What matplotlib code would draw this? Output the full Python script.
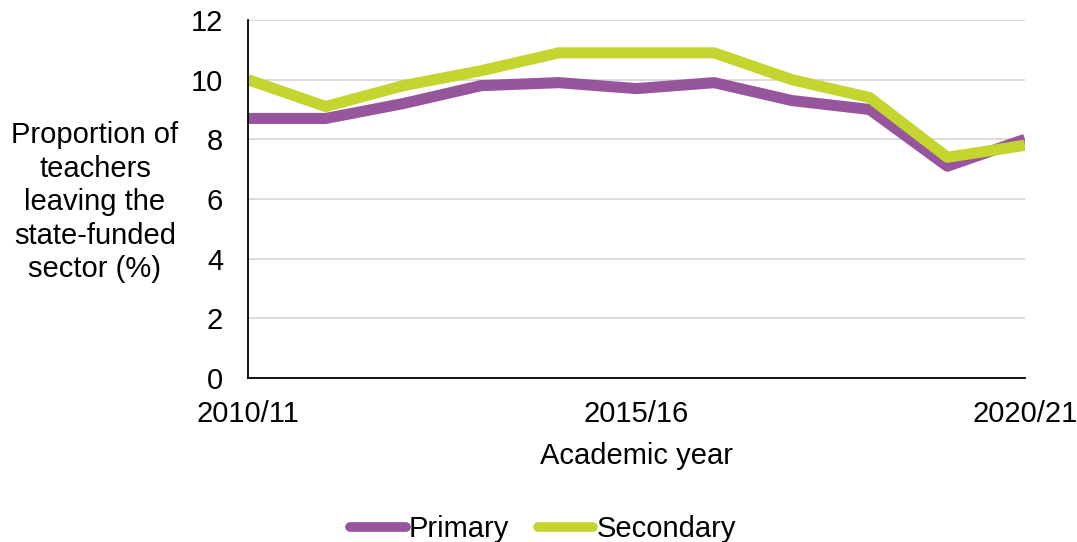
import matplotlib
matplotlib.use("Agg")
import matplotlib.pyplot as plt

plt.rcParams['font.family'] = ['Liberation Sans', 'DejaVu Sans']

years = ["2010/11", "2011/12", "2012/13", "2013/14", "2014/15", "2015/16",
         "2016/17", "2017/18", "2018/19", "2019/20", "2020/21"]
primary = [8.7, 8.7, 9.2, 9.8, 9.9, 9.7, 9.9, 9.3, 9.0, 7.1, 8.0]
secondary = [10.0, 9.1, 9.8, 10.3, 10.9, 10.9, 10.9, 10.0, 9.4, 7.4, 7.8]
yticks = [0, 2, 4, 6, 8, 10, 12]
xtick_labels = ["2010/11", "2015/16", "2020/21"]

FS = 21

fig = plt.figure(figsize=(10.77, 5.42), dpi=100)
ax = fig.add_axes([248/1077, 1 - 378/542, (1025-248)/1077, (378-20)/542])

x = list(range(len(years)))
ax.plot(x, primary, color='#97559e', lw=8, solid_capstyle='butt', label='Primary')
ax.plot(x, secondary, color='#c4d530', lw=8, solid_capstyle='butt', label='Secondary')

ax.set_xlim(0, len(years) - 1)
ax.set_ylim(0, 12)
ax.set_yticks(yticks)
ax.set_xticks([years.index(t) for t in xtick_labels])
ax.set_xticklabels(xtick_labels)
ax.tick_params(axis='both', length=0, labelsize=FS, colors='black')
ax.tick_params(axis='y', pad=18)
ax.tick_params(axis='x', pad=16)
ax.grid(axis='y', color='#d9d9d9', lw=1.3)
ax.set_axisbelow(True)
for s in ['top', 'right']:
    ax.spines[s].set_visible(False)
ax.spines['left'].set_color('black')
ax.spines['bottom'].set_color('black')
ax.spines['left'].set_linewidth(1.3)
ax.spines['bottom'].set_linewidth(1.3)

ax.set_xlabel("Academic year", fontsize=FS, labelpad=10)
fig.text(95/1077, 1 - 202/542, "Proportion of\nteachers\nleaving the\nstate-funded\nsector (%)",
         ha='center', va='center', fontsize=FS, linespacing=1.25)

leg = fig.legend(loc='center', bbox_to_anchor=(543/1077, 1 - 529/542), ncol=2, frameon=False,
                 fontsize=FS, handlelength=1.9, handletextpad=0.1, columnspacing=1.0)
for h in leg.get_lines():
    h.set_solid_capstyle('round')
    h.set_linewidth(7)

fig.savefig("out.png", dpi=100)
